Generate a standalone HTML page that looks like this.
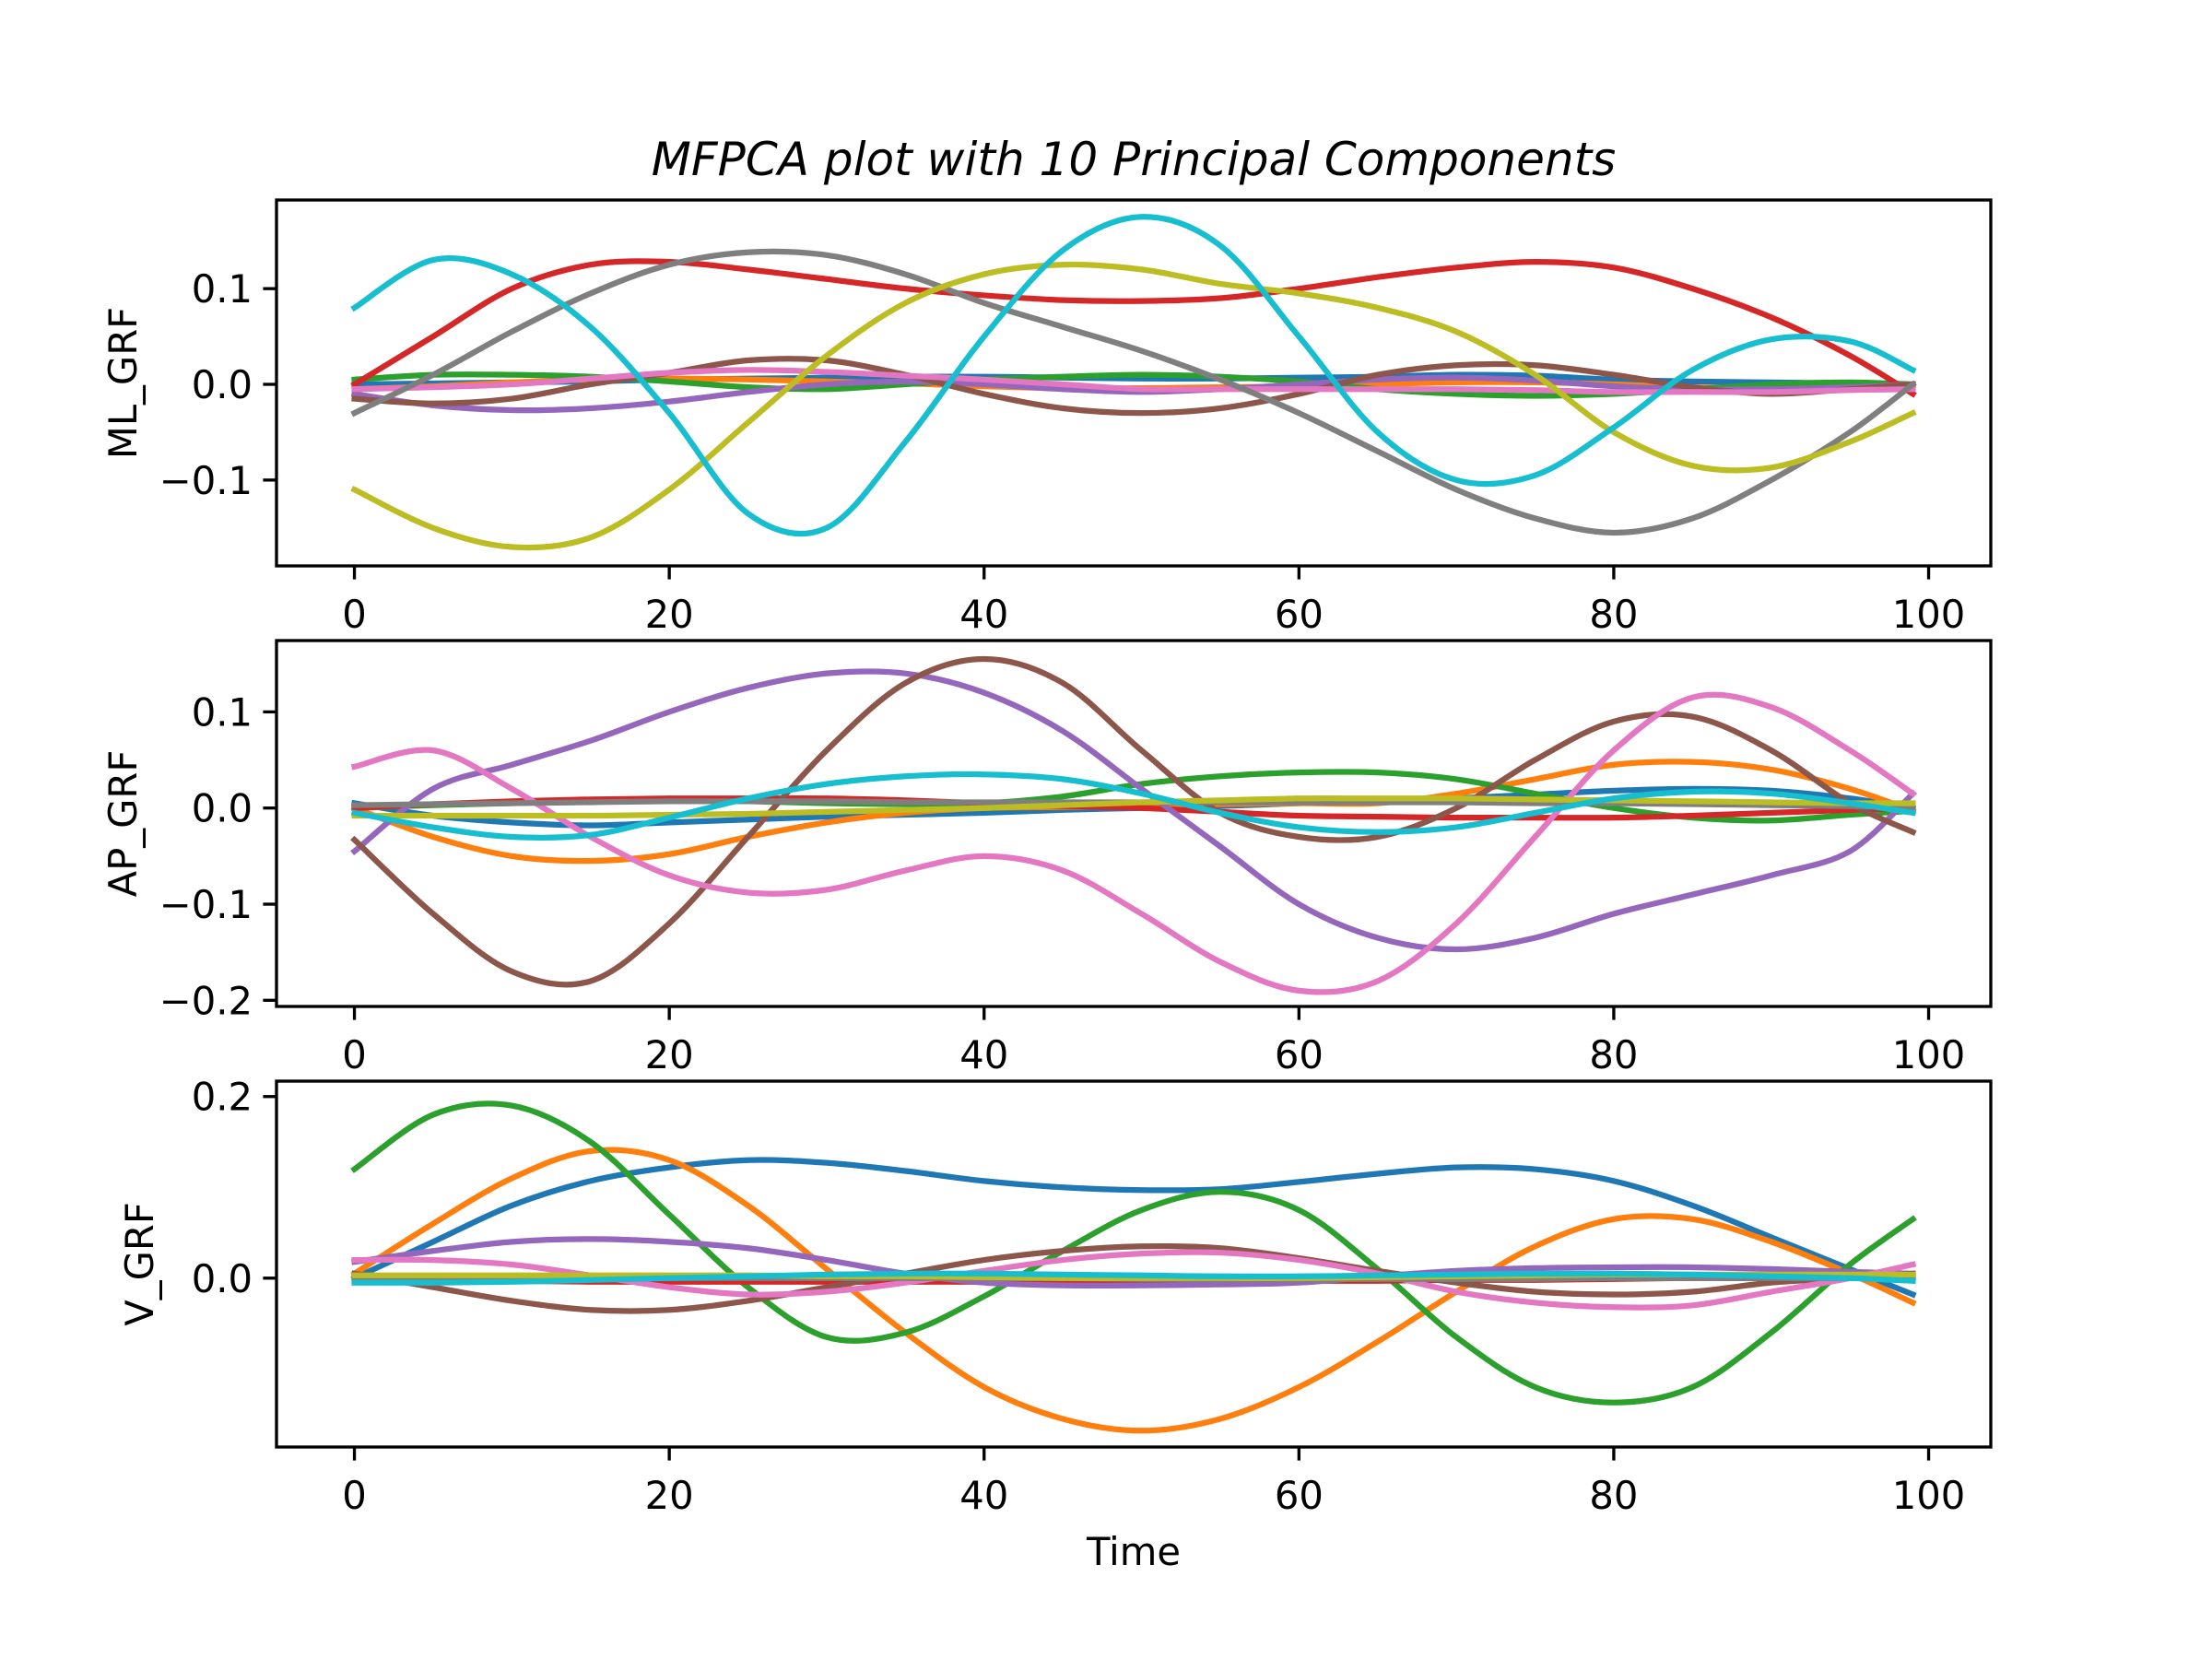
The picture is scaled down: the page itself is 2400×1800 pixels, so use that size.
<!DOCTYPE html>
<html><head><meta charset="utf-8"><style>
html,body{margin:0;padding:0;background:#fff}
svg{display:block}
text{font-family:"DejaVu Sans","Liberation Sans",sans-serif;fill:#000}
</style></head><body>
<svg id="chart" width="2400" height="1800" viewBox="0 0 2400 1800" xmlns="http://www.w3.org/2000/svg">
<rect width="2400" height="1800" fill="#fff"/>
<text x="1230" y="190" font-size="50" font-style="italic" text-anchor="middle">MFPCA plot with 10 Principal Components</text>
<text x="1230" y="1698" font-size="41.7" text-anchor="middle">Time</text>
</svg>
<script>
const xs=[0,5,10,15,20,25,30,35,40,45,50,55,60,65,70,75,80,85,90,95,99];
const colors=["#1f77b4","#ff7f0e","#2ca02c","#d62728","#9467bd","#8c564b","#e377c2","#7f7f7f","#bcbd22","#17becf"];
const xTicks=[0,20,40,60,80,100];
const panelNames=["ML_GRF","AP_GRF","V_GRF"];
const yTicksML=[-0.1,0.0,0.1];
const yTicksAP=[-0.2,-0.1,0.0,0.1];
const yTicksV=[0.0,0.2];
const mlSeries=[
[0,0.001,0.002,0.003,0.005,0.006,0.007,0.008,0.008,0.007,0.006,0.006,0.007,0.008,0.01,0.009,0.005,0.003,0.002,0.001,0],
[-0.005,-0.002,0.002,0.005,0.006,0.005,0.003,0.001,-0.002,-0.004,-0.004,-0.003,-0.002,0,0.002,0.002,0,-0.003,-0.004,-0.004,-0.003],
[0.005,0.01,0.01,0.008,0.003,-0.003,-0.005,0,0.005,0.008,0.01,0.008,0.003,-0.005,-0.01,-0.012,-0.01,-0.005,0,0.002,0],
[0,0.05,0.1,0.125,0.128,0.12,0.11,0.1,0.093,0.088,0.087,0.09,0.1,0.112,0.122,0.128,0.122,0.1,0.07,0.03,-0.01],
[-0.01,-0.022,-0.027,-0.025,-0.018,-0.008,0,0.003,0,-0.005,-0.008,-0.005,0,0.005,0.007,0.004,-0.002,-0.005,-0.005,-0.003,0],
[-0.015,-0.02,-0.015,0,0.012,0.025,0.025,0.01,-0.01,-0.025,-0.03,-0.025,-0.01,0.01,0.02,0.02,0.01,-0.003,-0.01,-0.005,0],
[-0.005,-0.003,0,0.006,0.012,0.015,0.013,0.009,0.005,0,-0.005,-0.005,-0.005,-0.005,-0.005,-0.006,-0.008,-0.008,-0.008,-0.006,-0.005],
[-0.03,0.01,0.055,0.095,0.125,0.138,0.135,0.115,0.085,0.06,0.035,0.005,-0.03,-0.07,-0.11,-0.14,-0.155,-0.14,-0.1,-0.05,0],
[-0.11,-0.15,-0.17,-0.16,-0.11,-0.04,0.03,0.085,0.115,0.125,0.12,0.105,0.095,0.08,0.055,0.01,-0.05,-0.085,-0.087,-0.06,-0.03],
[0.08,0.13,0.115,0.06,-0.03,-0.135,-0.15,-0.06,0.05,0.14,0.175,0.145,0.05,-0.05,-0.1,-0.095,-0.045,0.015,0.047,0.045,0.015]];
const apSeries=[
[0.005,-0.008,-0.015,-0.018,-0.015,-0.012,-0.009,-0.007,-0.005,-0.002,0,0.002,0.005,0.007,0.01,0.014,0.018,0.02,0.018,0.01,0],
[0,-0.03,-0.05,-0.055,-0.048,-0.03,-0.015,-0.005,0,0.001,0.002,0.004,0.005,0.005,0.015,0.03,0.045,0.048,0.04,0.02,-0.003],
[0,0.003,0.005,0.007,0.008,0.007,0.005,0.004,0.005,0.012,0.025,0.033,0.037,0.037,0.03,0.015,0,-0.01,-0.013,-0.007,-0.003],
[0,0.004,0.007,0.009,0.01,0.01,0.01,0.008,0.005,0.002,0,-0.004,-0.008,-0.009,-0.01,-0.01,-0.01,-0.008,-0.005,-0.002,0],
[-0.045,0.02,0.045,0.07,0.1,0.125,0.14,0.14,0.12,0.08,0.02,-0.04,-0.1,-0.135,-0.147,-0.135,-0.11,-0.09,-0.07,-0.045,0.015],
[-0.033,-0.11,-0.17,-0.18,-0.12,-0.03,0.06,0.13,0.155,0.13,0.06,-0.005,-0.03,-0.03,0,0.05,0.09,0.095,0.06,0.005,-0.025],
[0.043,0.06,0.02,-0.03,-0.07,-0.088,-0.085,-0.065,-0.05,-0.065,-0.11,-0.16,-0.19,-0.18,-0.12,-0.03,0.06,0.115,0.105,0.06,0.015],
[0.003,0.004,0.005,0.006,0.007,0.007,0.007,0.006,0.006,0.006,0.006,0.006,0.006,0.006,0.006,0.005,0.005,0.004,0.003,0.002,0],
[-0.008,-0.008,-0.008,-0.008,-0.007,-0.006,-0.004,-0.002,0,0.003,0.006,0.008,0.01,0.01,0.01,0.009,0.008,0.007,0.006,0.005,0.005],
[-0.005,-0.02,-0.03,-0.028,-0.01,0.01,0.025,0.033,0.035,0.03,0.015,-0.005,-0.02,-0.025,-0.02,-0.005,0.01,0.017,0.015,0.005,-0.005]];
const vSeries=[
[0,0.04,0.08,0.107,0.122,0.13,0.127,0.118,0.107,0.1,0.097,0.098,0.106,0.115,0.122,0.12,0.107,0.08,0.045,0.01,-0.018],
[0.005,0.06,0.11,0.14,0.13,0.08,0.01,-0.06,-0.12,-0.155,-0.168,-0.155,-0.12,-0.07,-0.015,0.035,0.065,0.065,0.04,0.005,-0.027],
[0.12,0.18,0.19,0.15,0.07,-0.01,-0.065,-0.06,-0.02,0.03,0.075,0.095,0.075,0.01,-0.065,-0.12,-0.137,-0.12,-0.06,0.015,0.065],
[0,-0.002,-0.003,-0.004,-0.004,-0.004,-0.004,-0.004,-0.004,-0.004,-0.003,-0.003,-0.003,-0.003,-0.002,-0.002,-0.001,0,0,0,0],
[0.018,0.03,0.04,0.043,0.04,0.033,0.02,0.005,-0.005,-0.008,-0.008,-0.007,-0.005,0.002,0.008,0.011,0.012,0.012,0.01,0.007,0.005],
[0.005,-0.01,-0.025,-0.035,-0.035,-0.025,-0.01,0.005,0.02,0.03,0.035,0.033,0.022,0.008,-0.005,-0.015,-0.018,-0.015,-0.005,0,0.005],
[0.02,0.02,0.015,0.003,-0.01,-0.018,-0.015,-0.005,0.008,0.02,0.027,0.028,0.02,0.005,-0.015,-0.027,-0.032,-0.03,-0.015,0,0.015],
[0,0,0,0,0,0,0,0,0,0,-0.001,-0.001,-0.001,-0.001,-0.001,-0.001,0,0,0,0,0],
[0.003,0.003,0.003,0.003,0.003,0.003,0.002,0.002,0.001,0,0,0,0,0.001,0.002,0.003,0.004,0.004,0.004,0.004,0.004],
[-0.005,-0.005,-0.004,-0.002,0,0.002,0.004,0.005,0.005,0.004,0.003,0.002,0.002,0.003,0.004,0.005,0.005,0.004,0.002,0,-0.003]];
const panels=[
 {series:mlSeries,ticks:yTicksML,ymin:-0.1897,ymax:0.1926,top:217},
 {series:apSeries,ticks:yTicksAP,ymin:-0.2064,ymax:0.1742,top:695},
 {series:vSeries,ticks:yTicksV,ymin:-0.186,ymax:0.217,top:1173}];
const NS="http://www.w3.org/2000/svg";
const svg=document.getElementById('chart');
const L=300,R=2160,H=397,XMIN=-4.95,XMAX=103.95;
function sx(v){return L+(v-XMIN)/(XMAX-XMIN)*(R-L);}
function mk(tag,attrs,parent){const e=document.createElementNS(NS,tag);for(const k in attrs)e.setAttribute(k,attrs[k]);(parent||svg).appendChild(e);return e;}
function fmt(v){const s=Math.abs(v).toFixed(1);return (v<-1e-9?"\u2212":"")+s;}
panels.forEach((p,pi)=>{
 const T=p.top,B=p.top+H;
 const sy=v=>B-(v-p.ymin)/(p.ymax-p.ymin)*H;
 const g=mk('g',{});
 
 
 const cid='clip'+pi;
 const cp=mk('clipPath',{id:cid},g);mk('rect',{x:L,y:T,width:R-L,height:H},cp);
 const lg=mk('g',{'clip-path':'url(#'+cid+')'},g);
 p.series.forEach((s,si)=>{
  const pts=s.map((v,i)=>[sx(xs[i]),sy(v)]);
  let d='M'+pts[0][0].toFixed(2)+','+pts[0][1].toFixed(2);
  for(let i=0;i<pts.length-1;i++){
   const p0=pts[Math.max(0,i-1)],p1=pts[i],p2=pts[i+1],p3=pts[Math.min(pts.length-1,i+2)];
   const c1=[p1[0]+(p2[0]-p0[0])/6,p1[1]+(p2[1]-p0[1])/6];
   const c2=[p2[0]-(p3[0]-p1[0])/6,p2[1]-(p3[1]-p1[1])/6];
   d+='C'+c1[0].toFixed(2)+','+c1[1].toFixed(2)+' '+c2[0].toFixed(2)+','+c2[1].toFixed(2)+' '+p2[0].toFixed(2)+','+p2[1].toFixed(2);
  }
  const path=mk('path',{d:d,fill:'none',stroke:colors[si],'stroke-width':6.25,'stroke-linejoin':'round','stroke-linecap':'square'},lg);
  
  
 });
 const frame=mk('rect',{x:L,y:T,width:R-L,height:H,fill:'none',stroke:'#000','stroke-width':3.33},g);
 
 
 xTicks.forEach(t=>{
  const x=sx(t);
  mk('line',{x1:x,x2:x,y1:B,y2:B+14.6,stroke:'#000','stroke-width':3.33},g);
  const tx=mk('text',{x:x,y:B+67,'font-size':41.7,'text-anchor':'middle'},g);
  tx.textContent=String(t);
  
  
 });
 p.ticks.forEach(t=>{
  const y=sy(t);
  mk('line',{x1:L,x2:L-14.6,y1:y,y2:y,stroke:'#000','stroke-width':3.33},g);
  const tx=mk('text',{x:L-26,y:y+15,'font-size':41.7,'text-anchor':'end'},g);
  tx.textContent=fmt(t);
  
  
 });
 const yl=mk('text',{x:0,y:0,'font-size':41.7,'text-anchor':'middle',transform:'translate('+(pi==2?166:148)+','+(T+H/2)+') rotate(-90)'},g);
 yl.textContent=panelNames[pi];
 
 
});
</script>
</body></html>
